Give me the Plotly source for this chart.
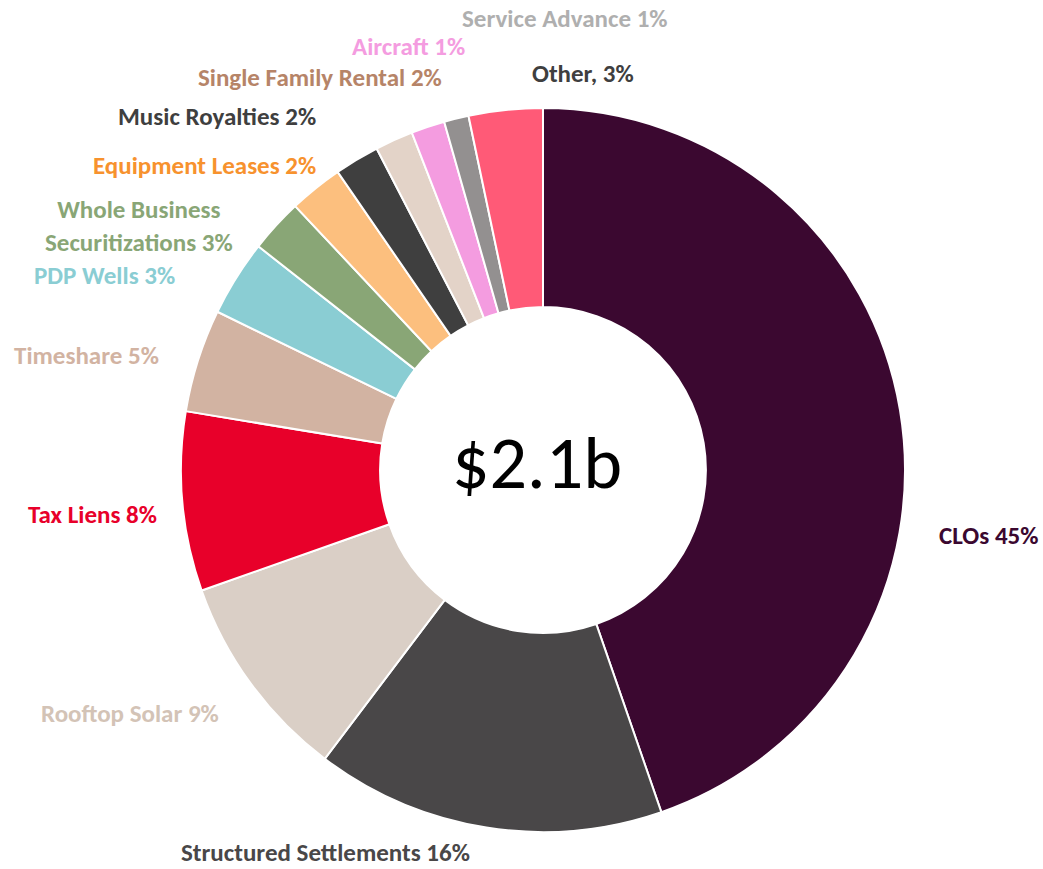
import plotly.graph_objects as go

# ---- data ----
categories = ["CLOs", "Structured Settlements", "Rooftop Solar", "Tax Liens", "Timeshare",
              "PDP Wells", "Whole Business Securitizations", "Equipment Leases", "Music Royalties",
              "Single Family Rental", "Aircraft", "Service Advance", "Other"]
values = [44.7, 15.6, 9.3, 8.0, 4.6, 3.4, 2.4, 2.4, 2.0, 1.7, 1.5, 1.1, 3.3]
label_texts = ["CLOs 45%", "Structured Settlements 16%", "Rooftop Solar 9%", "Tax Liens 8%",
               "Timeshare 5%", "PDP Wells 3%", "Whole Business<br>Securitizations 3%",
               "Equipment Leases 2%", "Music Royalties 2%", "Single Family Rental 2%",
               "Aircraft 1%", "Service Advance 1%", "Other, 3%"]
center_text = "$2.1b"

# ---- style ----
W, H = 1043, 869
slice_colors = ["#3B0830", "#494748", "#DACFC6", "#E8002A", "#D2B3A2", "#8ACDD3", "#89A676",
                "#FCBF7E", "#3F3F3F", "#E3D3C8", "#F49CE0", "#939090", "#FF5A77"]
label_colors = ["#3B0830", "#494748", "#D3C3B6", "#E8002A", "#D2B3A2", "#8ACDD3", "#89A676",
                "#F7922E", "#3F3F3F", "#B68468", "#F49CE0", "#AFAFAF", "#3F3F3F"]
# label centres in page pixels (layout only)
label_pos_px = [(988, 535), (325, 852), (130, 713), (92, 514), (86, 356), (104, 275), (139, 226),
                (204, 165), (217, 117), (320, 77), (408, 47), (565, 19), (583, 73)]

cx, cy, R = 543, 470, 362
FONT = "Carlito, Lato, Calibri, sans-serif"


def px2paper(px, py):
    return px / W, 1 - py / H


fig = go.Figure(go.Pie(
    labels=categories,
    values=values,
    hole=0.45,
    sort=False,
    direction="clockwise",
    rotation=0,
    marker=dict(colors=slice_colors, line=dict(color="white", width=2)),
    textinfo="none",
    hoverinfo="label+percent",
    showlegend=False,
    domain=dict(x=[(cx - R) / W, (cx + R) / W], y=[(H - cy - R) / H, (H - cy + R) / H]),
))

annotations = []
for txt, col, (px, py) in zip(label_texts, label_colors, label_pos_px):
    ax, ay = px2paper(px, py)
    annotations.append(dict(
        x=ax, y=ay, xref="paper", yref="paper",
        text=f"<b>{txt}</b>", showarrow=False, xanchor="center", yanchor="middle",
        font=dict(family=FONT, size=25, color=col), align="center",
    ))
ax, ay = px2paper(537, 463)
annotations.append(dict(
    x=ax, y=ay, xref="paper", yref="paper", text=center_text, showarrow=False,
    xanchor="center", yanchor="middle", font=dict(family=FONT, size=74, color="#000000"),
))

fig.update_layout(
    width=W, height=H,
    margin=dict(l=0, r=0, t=0, b=0),
    paper_bgcolor="white", plot_bgcolor="white",
    annotations=annotations,
)

fig.write_html(
    "out.html",
    config={"displayModeBar": False},
    post_script="document.body.style.margin='0';document.body.style.overflow='hidden';"
                "document.documentElement.style.overflow='hidden';",
)
